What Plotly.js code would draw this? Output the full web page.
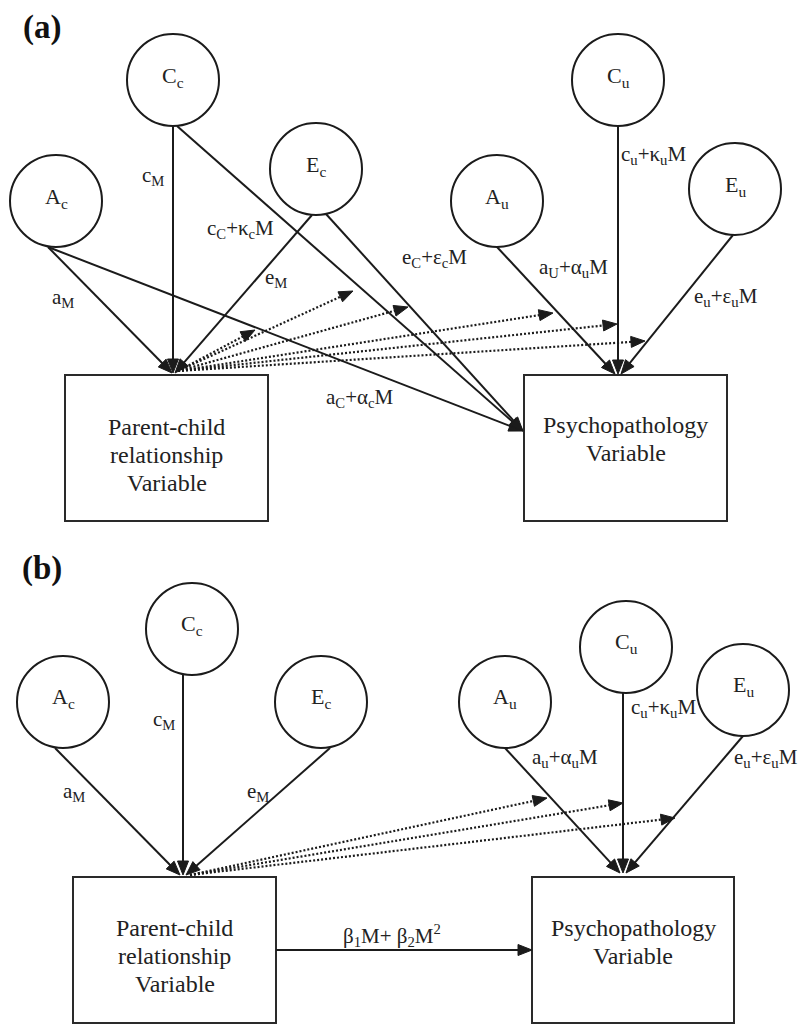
<!DOCTYPE html>
<html>
<head>
<meta charset="utf-8">
<script src="https://cdn.plot.ly/plotly-3.0.1.min.js"></script>
<style>html,body{margin:0;padding:0;background:#fff;}#chart{width:800px;height:1026px;}</style>
</head>
<body>
<div id="chart"></div>
<script>
// ---------- Panel titles ----------
const panelLabels = ['(a)', '(b)'];
const panelLabelX = [42, 42];
const panelLabelY = [27, 568];

// ---------- Latent factor circles ----------
const circleLabelsA = ['A<sub>c</sub>', 'C<sub>c</sub>', 'E<sub>c</sub>', 'A<sub>u</sub>', 'C<sub>u</sub>', 'E<sub>u</sub>'];
const circleXA = [56, 173, 316, 497, 618, 735];
const circleYA = [201, 80, 169, 201, 80, 189];
const circleLabelsB = ['A<sub>c</sub>', 'C<sub>c</sub>', 'E<sub>c</sub>', 'A<sub>u</sub>', 'C<sub>u</sub>', 'E<sub>u</sub>'];
const circleXB = [63, 192, 321, 505, 626, 743];
const circleYB = [702, 629, 702, 702, 647, 690];
const circleR = 46;

// ---------- Observed variable boxes ----------
const boxLinesParent = ['Parent-child', 'relationship', 'Variable'];
const boxLinesPsych = ['Psychopathology', 'Variable'];
const boxX0 = [65, 524, 73, 532];
const boxX1 = [268, 727, 276, 734];
const boxY0 = [375, 375, 877, 877];
const boxY1 = [521, 521, 1023, 1023];

// ---------- Path coefficient labels ----------
const pathLabelsA = ['c<sub>M</sub>', 'c<sub>C</sub>+κ<sub>c</sub>M', 'e<sub>M</sub>', 'a<sub>M</sub>',
  'e<sub>C</sub>+ε<sub>c</sub>M', 'a<sub>U</sub>+α<sub>u</sub>M', 'c<sub>u</sub>+κ<sub>u</sub>M',
  'e<sub>u</sub>+ε<sub>u</sub>M', 'a<sub>C</sub>+α<sub>c</sub>M'];
const pathLabelXA = [153, 240, 276, 63, 434, 573, 619, 726, 360];
const pathLabelYA = [176, 229, 278, 298, 258, 268, 155, 297, 398];
const pathAnchorA = ['center', 'center', 'center', 'center', 'center', 'center', 'left', 'center', 'center'];

const pathLabelsB = ['c<sub>M</sub>', 'a<sub>M</sub>', 'e<sub>M</sub>', 'a<sub>u</sub>+α<sub>u</sub>M',
  'c<sub>u</sub>+κ<sub>u</sub>M', 'e<sub>u</sub>+ε<sub>u</sub>M', 'β<sub>1</sub>M+ β<sub>2</sub>M<sup>2</sup>'];
const pathLabelXB = [164, 74, 258, 565, 629, 732, 392];
const pathLabelYB = [720, 792, 792, 758, 708, 758, 935];
const pathAnchorB = ['center', 'center', 'center', 'center', 'left', 'left', 'center'];

// ---------- Solid paths (from -> to) ----------
const solidFromXA = [48, 173, 312, 48, 177, 326, 497, 618, 733];
const solidFromYA = [247, 126, 215, 247, 126, 214, 247, 126, 235];
const solidToXA   = [172, 173, 175, 523, 523, 523, 615, 618, 621];
const solidToYA   = [373, 373, 373, 431, 431, 431, 374, 374, 374];

const solidFromXB = [55, 183, 330, 505, 623, 743, 276];
const solidFromYB = [748, 675, 748, 748, 693, 736, 950];
const solidToXB   = [180, 183, 186, 620, 623, 626, 532];
const solidToYB   = [875, 875, 875, 873, 873, 873, 950];

// ---------- Dotted moderation paths ----------
const dotFromA = [178, 371];
const dotToXA = [255, 353, 408, 553, 617, 645];
const dotToYA = [330, 291, 307, 313, 324, 341];
const dotFromB = [190, 875];
const dotToXB = [547, 623, 675];
const dotToYB = [798, 803, 818];

// ================= drawing =================
const shapes = [];
const annotations = [];
const ink = '#1b1b1b';
const serif = 'Liberation Serif, Times New Roman, serif';

function addCircle(cx, cy) {
  shapes.push({type: 'circle', xref: 'x', yref: 'y', x0: cx - circleR, x1: cx + circleR,
    y0: cy - circleR, y1: cy + circleR, line: {color: ink, width: 2}, fillcolor: 'rgba(0,0,0,0)'});
}
function addArrow(x0, y0, x1, y1, dotted) {
  const dx = x1 - x0, dy = y1 - y0;
  const len = Math.sqrt(dx * dx + dy * dy);
  const ux = dx / len, uy = dy / len;
  const L = 14, W = 5.5;
  const bx = x1 - ux * L, by = y1 - uy * L;
  shapes.push({type: 'line', xref: 'x', yref: 'y', x0: x0, y0: y0, x1: bx + ux * 2, y1: by + uy * 2,
    line: {color: ink, width: dotted ? 2.2 : 2, dash: dotted ? '2px,2px' : 'solid'}});
  const p1x = bx - uy * W, p1y = by + ux * W;
  const p2x = bx + uy * W, p2y = by - ux * W;
  shapes.push({type: 'path', xref: 'x', yref: 'y',
    path: `M ${x1} ${y1} L ${p1x} ${p1y} L ${p2x} ${p2y} Z`,
    fillcolor: ink, line: {color: ink, width: 1}});
}
function addText(text, x, y, size, anchor, bold) {
  annotations.push({x: x, y: y, xref: 'x', yref: 'y', text: bold ? '<b>' + text + '</b>' : text,
    showarrow: false, xanchor: anchor || 'center', yanchor: 'middle',
    font: {family: serif, size: size, color: bold ? '#111' : '#222'}});
}

// panel titles
panelLabels.forEach((t, i) => addText(t, panelLabelX[i], panelLabelY[i], 33, 'center', true));

// circles
circleLabelsA.forEach((t, i) => { addCircle(circleXA[i], circleYA[i]); addText(t, circleXA[i], circleYA[i] - 3, 22); });
circleLabelsB.forEach((t, i) => { addCircle(circleXB[i], circleYB[i]); addText(t, circleXB[i], circleYB[i] - 4, 22); });

// boxes
for (let i = 0; i < boxX0.length; i++) {
  shapes.push({type: 'rect', xref: 'x', yref: 'y', x0: boxX0[i], x1: boxX1[i], y0: boxY0[i], y1: boxY1[i],
    line: {color: '#2a2a2a', width: 2}, fillcolor: 'rgba(0,0,0,0)'});
}
const lineGap = 28;
// parent (a), psych (a), parent (b), psych (b)
[[0, boxLinesParent, 52], [1, boxLinesPsych, 50], [2, boxLinesParent, 51], [3, boxLinesPsych, 51]].forEach(([b, lines, off]) => {
  const cx = (boxX0[b] + boxX1[b]) / 2;
  lines.forEach((t, j) => addText(t, cx, boxY0[b] + off + j * lineGap, 24));
});

// solid paths
solidFromXA.forEach((x, i) => addArrow(x, solidFromYA[i], solidToXA[i], solidToYA[i], false));
solidFromXB.forEach((x, i) => addArrow(x, solidFromYB[i], solidToXB[i], solidToYB[i], false));

// dotted paths
dotToXA.forEach((x, i) => addArrow(dotFromA[0], dotFromA[1], x, dotToYA[i], true));
dotToXB.forEach((x, i) => addArrow(dotFromB[0], dotFromB[1], x, dotToYB[i], true));

// path labels
pathLabelsA.forEach((t, i) => addText(t, pathLabelXA[i], pathLabelYA[i], 21, pathAnchorA[i]));
pathLabelsB.forEach((t, i) => addText(t, pathLabelXB[i], pathLabelYB[i], 21, pathAnchorB[i]));

const layout = {
  width: 800, height: 1026,
  margin: {l: 0, r: 0, t: 0, b: 0, pad: 0},
  paper_bgcolor: '#fff', plot_bgcolor: '#fff',
  showlegend: false,
  xaxis: {range: [0, 800], visible: false, fixedrange: true},
  yaxis: {range: [1026, 0], visible: false, fixedrange: true},
  shapes: shapes,
  annotations: annotations
};
Plotly.newPlot('chart', [], layout, {staticPlot: true, displayModeBar: false});
</script>
</body>
</html>
